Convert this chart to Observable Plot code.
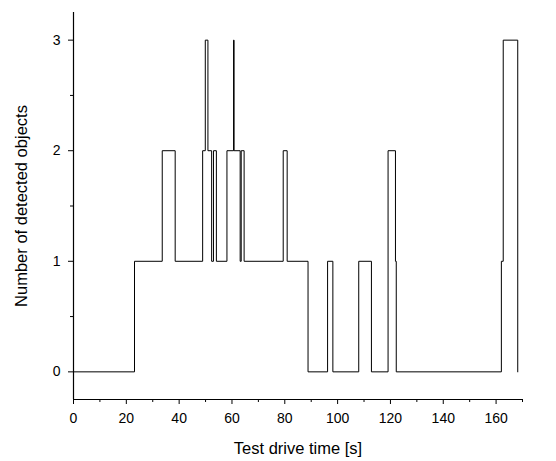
<!DOCTYPE html>
<html>
<head>
<meta charset="utf-8">
<script src="https://cdn.jsdelivr.net/npm/d3@7"></script>
<script src="https://cdn.jsdelivr.net/npm/@observablehq/plot@0.6"></script>
<style>
  html, body { margin: 0; padding: 0; background: #fff; }
  #chart { width: 556px; height: 461px; }
</style>
</head>
<body>
<div id="chart"></div>
<script>
// change points of the step signal (time in s, number of objects from that time on)
const times  = [0, 23.1, 33.6, 38.5, 48.9, 49.9, 50.9, 52.3, 53.0, 54.1, 58.1, 60.6, 60.8, 63.1, 63.5, 64.6, 79.4, 80.9, 88.8, 96.2, 98.2, 108.0, 112.8, 119.1, 121.9, 122.2, 162.0, 162.7, 168.2];
const counts = [0, 1, 2, 1, 2, 3, 2, 1, 2, 1, 2, 3, 2, 1, 2, 1, 2, 1, 0, 1, 0, 1, 0, 2, 1, 0, 1, 3, 0];

const xMajorTicks = [0, 20, 40, 60, 80, 100, 120, 140, 160];
const xMinorTicks = [10, 30, 50, 70, 90, 110, 130, 150, 170];
const yMajorTicks = [0, 1, 2, 3];
const yMinorTicks = [0.5, 1.5, 2.5];
const xTitle = "Test drive time [s]";
const yTitle = "Number of detected objects";

const data = times.map((t, i) => ({t, n: counts[i]}));

const chart = Plot.plot({
  width: 556,
  height: 461,
  marginLeft: 73,
  marginRight: 34,
  marginTop: 12,
  marginBottom: 62,
  x: {domain: [0, 170]},
  y: {domain: [-0.25, 3.25]},
  style: {fontFamily: "'Liberation Sans', Arial, sans-serif", fontSize: "14px", color: "#000", background: "#fff"},
  marks: [
    Plot.axisX(xMajorTicks, {tickSize: 5, tickPadding: 9, label: null, fontSize: 14, tickFormat: d3.format("d")}),
    Plot.axisX(xMinorTicks, {tickSize: 3, text: null, label: null}),
    Plot.axisY(yMajorTicks, {tickSize: 5, tickPadding: 8, label: null, fontSize: 14, tickFormat: d3.format("d")}),
    Plot.axisY(yMinorTicks, {tickSize: 3, text: null, label: null}),
    Plot.ruleX([0], {stroke: "#000", strokeWidth: 1.2}),
    Plot.ruleY([-0.25], {stroke: "#000", strokeWidth: 1.2}),
    Plot.line(data, {x: "t", y: "n", curve: "step-after", stroke: "#000", strokeWidth: 1}),
    Plot.text([xTitle], {frameAnchor: "bottom", dy: 49, fontSize: 16.5, lineAnchor: "middle", textAnchor: "middle", text: d => d}),
    Plot.text([yTitle], {frameAnchor: "left", dx: -52, rotate: -90, fontSize: 16.5, lineAnchor: "middle", textAnchor: "middle", text: d => d})
  ]
});
document.getElementById("chart").appendChild(chart);
</script>
</body>
</html>
